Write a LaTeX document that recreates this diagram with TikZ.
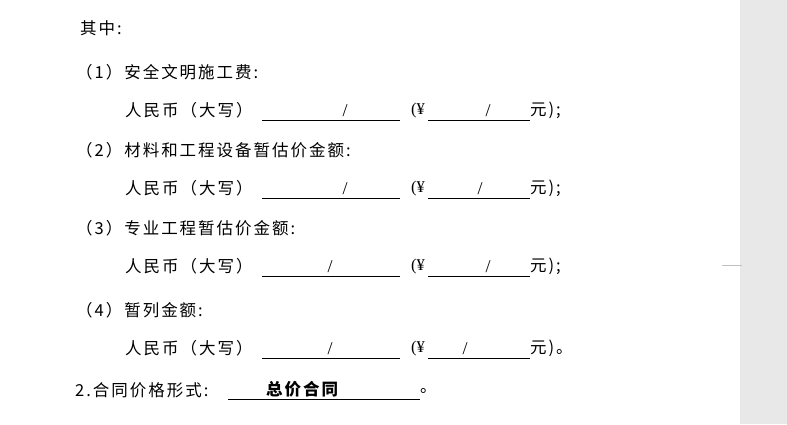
\documentclass[tikz,border=0pt]{standalone}
\usepackage{fontspec}
\setmainfont{Liberation Serif}
\newfontfamily\cjk[LetterSpace=12]{Noto Sans CJK SC}
\usetikzlibrary{positioning}

\tikzset{
  txt/.style={anchor=west, inner sep=0pt, font=\fontsize{16.5}{18}\selectfont\cjk},
  blank/.style={line width=0.8pt},
  slash/.style={inner sep=0pt, font=\fontsize{18}{18}\selectfont}
}

\begin{document}
\begin{tikzpicture}[x=1pt, y=-1pt]

  % page and side bar
  \fill[white] (0,0) rectangle (787,424);
  \fill[black!9] (740,0) rectangle (787,424);
  \draw[black!25, line width=0.6pt] (722,265) -- (742,265);

  % heading
  \node[txt] (head) at (80,28) {其中:};

  % items
  \foreach \i/\y/\label/\sa/\sb/\ending in {
      1/72/{（1）安全文明施工费:}/345/488/{元);},
      2/150/{（2）材料和工程设备暂估价金额:}/345/480/{元);},
      3/228/{（3）专业工程暂估价金额:}/330/488/{元);},
      4/310/{（4）暂列金额:}/330/465/{元)。}} {
    \node[txt] (item\i) at (76,\y) {\label};
    \node[txt] (rmb\i) at (125,\y+38) {人民币（大写）};
    \coordinate (a\i) at (262,\y+48);
    \coordinate (b\i) at (400,\y+48);
    \draw[blank] (a\i) -- (b\i);
    \node[slash] (s\i) at (\sa,\y+39) {/};
    \node[txt, font=\fontsize{16.5}{18}\selectfont] (yen\i) at (411,\y+39) {(¥};
    \coordinate (c\i) at (428,\y+48);
    \coordinate (d\i) at (530,\y+48);
    \draw[blank] (c\i) -- (d\i);
    \node[slash] (t\i) at (\sb,\y+39) {/};
    \node[txt, font=\fontsize{16.5}{18}\selectfont\cjk] (yuan\i) at (530,\y+38) {\ending};
  }

  % contract form
  \node[txt] (form) at (75,390) {2.合同价格形式:};
  \coordinate (fa) at (228,399);
  \coordinate (fb) at (420,399);
  \draw[blank] (fa) -- (fb);
  \node[txt, font=\fontsize{16.5}{18}\selectfont\cjk\bfseries] (kind) at (266,389) {总价合同};
  \node[txt] (dot) at (420,391) {。};

\end{tikzpicture}
\end{document}
